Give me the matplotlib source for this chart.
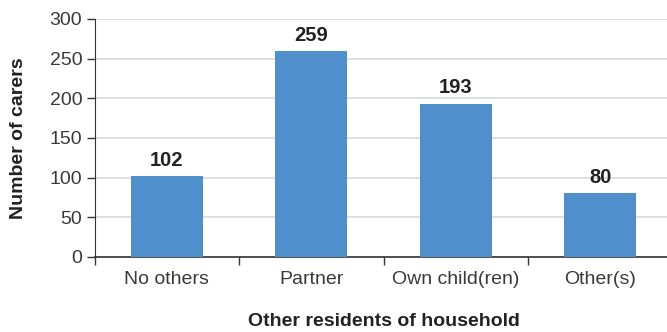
import matplotlib
matplotlib.use("Agg")
import matplotlib.pyplot as plt
import numpy as np

# household composition of carers
categories = ["No others", "Partner", "Own child(ren)", "Other(s)"]
carers = [102, 259, 193, 80]
y_ticks = [0, 50, 100, 150, 200, 250, 300]

plt.rcParams['font.family'] = ['Liberation Sans', 'DejaVu Sans']

fig = plt.figure(figsize=(6.67, 3.32), dpi=100)
ax = fig.add_axes([0.142, 0.226, 0.866, 0.717])

x = np.arange(len(categories))
ax.bar(x, carers, width=0.5, color="#4f8fcc", zorder=3)

### value labels above each bar
for xi, v in zip(x, carers):
    ax.text(xi, v + 8, str(v), ha="center", va="bottom",
            fontsize=14.5, fontweight="bold", color="#222222")

ax.set_xlim(-0.5, len(categories) - 0.5)
ax.set_ylim(0, 300)
ax.set_yticks(y_ticks)
ax.set_yticklabels([str(t) for t in y_ticks], fontsize=14, color="#3a3a3a")

# category names centred under bars, tick marks between them
ax.set_xticks(x)
ax.set_xticklabels(categories, fontsize=14, color="#3a3a3a")
ax.tick_params(axis="x", length=0, pad=10)
ax.set_xticks(np.arange(len(categories) + 1) - 0.5, minor=True)
ax.tick_params(axis="x", which="minor", length=6, color="#333333", width=1)
ax.tick_params(axis="y", length=6, color="#333333", width=1, pad=3)

ax.grid(axis="y", color="#d9d9d9", linewidth=1.2, zorder=0)
for s in ["top", "right"]:
    ax.spines[s].set_visible(False)
ax.spines["left"].set_color("#333333")
ax.spines["bottom"].set_color("#333333")
ax.spines["bottom"].set_linewidth(1.2)

ax.set_ylabel("Number of carers", fontsize=14, fontweight="bold", color="#222222", labelpad=16)
ax.set_xlabel("Other residents of household", fontsize=14, fontweight="bold", color="#222222", labelpad=18)

fig.savefig("out.png", dpi=100)
